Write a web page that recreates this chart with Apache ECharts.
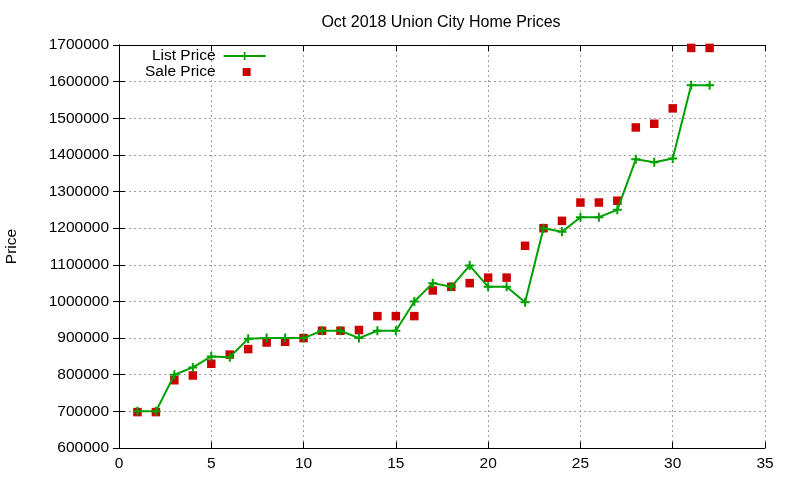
<!DOCTYPE html>
<html><head><meta charset="utf-8">
<script src="https://cdn.jsdelivr.net/npm/echarts@6/dist/echarts.min.js"></script>
<style>html,body{margin:0;padding:0;background:#fff}#c{width:800px;height:480px}</style>
</head><body><div id="c"></div>
<script>
const days = [1,2,3,4,5,6,7,8,9,10,11,12,13,14,15,16,17,18,19,20,21,22,23,24,25,26,27,28,29,30,31,32];
const listPrice = [700000,700000,800000,820000,850000,848000,898000,900000,900000,900000,920000,920000,900000,920000,920000,1000000,1050000,1040000,1098000,1040000,1040000,998000,1200000,1190000,1230000,1230000,1250000,1388000,1380000,1390000,1590000,1590000];
const salePrice = [698000,698000,785000,798000,830000,855000,870000,888000,890000,900000,920000,920000,922000,960000,960000,960000,1030000,1040000,1050000,1065000,1065000,1152000,1200000,1220000,1270000,1270000,1275000,1475000,1485000,1527000,1692000,1692000];
const titleText = 'Oct 2018 Union City Home Prices';

const font = 'Liberation Sans, Arial, sans-serif';
const fs = 15.5;
const plus = 'path://M3.5,0h2v3.5h3.5v2h-3.5v3.5h-2v-3.5h-3.5v-2h3.5z';
const squareIcon = 'image://data:image/svg+xml;utf8,' + encodeURIComponent(
  '<svg xmlns="http://www.w3.org/2000/svg" width="42" height="10" viewBox="0 0 42 10">' +
  '<rect x="19" y="1" width="8" height="8" fill="#cc0000"/></svg>');
const chart = echarts.init(document.getElementById('c'));
const axisCommon = {
  axisLine: {show: true, lineStyle: {color: '#000', width: 1}},
  axisTick: {show: true, inside: true, length: 6, lineStyle: {color: '#000'}},
  splitLine: {show: false}
};
chart.setOption({
  animation: false,
  backgroundColor: '#fff',
  title: {text: titleText, left: 436, textAlign: 'center', top: 10,
    textStyle: {fontFamily: font, fontSize: 16, fontWeight: 'normal', color: '#000'}},
  legend: {
    orient: 'vertical', left: 140, top: 43, align: 'right', itemGap: 0,
    itemWidth: 42, itemHeight: 10,
    textStyle: {fontFamily: font, fontSize: fs, color: '#000', padding: [0, 3, 0, 0]},
    data: ['List Price', {name: 'Sale Price', icon: squareIcon}]
  },
  grid: {left: 119, right: 35, top: 45, bottom: 32, show: false, containLabel: false, outerBoundsMode: 'none'},
  xAxis: [
    Object.assign({type: 'value', min: 0, max: 35, interval: 5, position: 'bottom',
      axisLabel: {fontFamily: font, fontSize: fs, color: '#000', margin: 8},
      splitLine: {show: true, lineStyle: {color: '#a0a0a0', type: [2, 3], width: 1}}}, {
      axisLine: axisCommon.axisLine, axisTick: axisCommon.axisTick}),
    Object.assign({type: 'value', min: 0, max: 35, interval: 5, position: 'top',
      axisLabel: {show: false}}, axisCommon)
  ],
  yAxis: [
    Object.assign({type: 'value', min: 600000, max: 1700000, interval: 100000, position: 'left',
      name: 'Price', nameLocation: 'middle', nameGap: 99, nameRotate: 90,
      nameTextStyle: {fontFamily: font, fontSize: fs, color: '#000'},
      axisLabel: {fontFamily: font, fontSize: fs, color: '#000', margin: 10, formatter: v => String(v)},
      splitLine: {show: true, lineStyle: {color: '#a0a0a0', type: [2, 3], width: 1}}}, {
      axisLine: axisCommon.axisLine, axisTick: axisCommon.axisTick}),
    Object.assign({type: 'value', min: 600000, max: 1700000, interval: 100000, position: 'right',
      axisLabel: {show: false}}, axisCommon)
  ],
  series: [
    {name: 'List Price', type: 'line', xAxisIndex: 0, yAxisIndex: 0,
      data: days.map((d, i) => [d, listPrice[i]]),
      symbol: plus, symbolSize: 9, showAllSymbol: true,
      lineStyle: {color: '#00a000', width: 2}, itemStyle: {color: '#00a000'}},
    {name: 'Sale Price', type: 'scatter', xAxisIndex: 0, yAxisIndex: 0,
      data: days.map((d, i) => [d, salePrice[i]]),
      symbol: 'rect', symbolSize: 8.5,
      itemStyle: {color: '#cc0000', opacity: 1}}
  ]
});
</script></body></html>
